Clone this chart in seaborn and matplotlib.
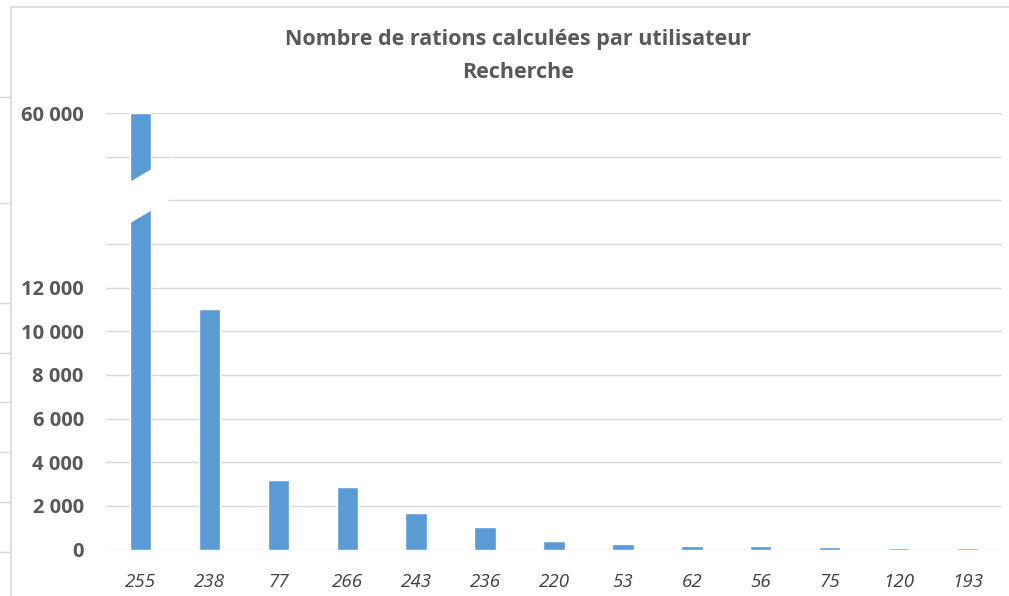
import numpy as np
import pandas as pd
import matplotlib
matplotlib.use("Agg")
import matplotlib.pyplot as plt
import seaborn as sns
from matplotlib.lines import Line2D
from matplotlib.patches import Polygon

# data
users = ["255", "238", "77", "266", "243", "236", "220", "53", "62", "56", "75", "120", "193"]
rations = [60000, 11000, 3200, 2850, 1680, 1020, 390, 250, 160, 160, 110, 60, 60]
tick_values = [0, 2000, 4000, 6000, 8000, 10000, 12000, 14000, 16000, 18000, 60000]
tick_labels = ["0", "2 000", "4 000", "6 000", "8 000", "10 000", "12 000", "", "", "", "60 000"]

df = pd.DataFrame({"user": users, "rations": rations})

# broken axis : everything above 18 000 is squeezed
BREAK = 18000
SQUEEZE = 21.0
def fwd(y):
    y = np.asarray(y, dtype=float)
    return np.where(y <= BREAK, y, BREAK + (y - BREAK) / SQUEEZE)
def inv(t):
    t = np.asarray(t, dtype=float)
    return np.where(t <= BREAK, t, BREAK + (t - BREAK) * SQUEEZE)

sns.set_style("white")
plt.rcParams["font.family"] = ["Open Sans", "DejaVu Sans"]

fig = plt.figure(figsize=(10.09, 5.96), dpi=100)
ax = fig.add_axes([106 / 1009, (596 - 549.5) / 596, (1002 - 106) / 1009, (549.5 - 113) / 596])

ax.set_yscale("function", functions=(fwd, inv))
sns.barplot(data=df, x="user", y="rations", color="#5B9BD5", width=0.31, ax=ax,
            saturation=1, zorder=3)
ax.set_ylim(0, 60000)
ax.set_xlim(-0.5, len(users) - 0.5)

ax.set_yticks(tick_values)
ax.set_yticklabels(tick_labels, fontsize=14.5, fontweight="bold", color="#595959")
ax.tick_params(axis="y", length=0, pad=16)
ax.tick_params(axis="x", length=0, pad=17)
for lab in ax.get_xticklabels():
    lab.set_fontstyle("italic")
    lab.set_fontsize(13.5)
    lab.set_color("#404040")
ax.set_xlabel("")
ax.set_ylabel("")
ax.grid(axis="y", color="#D9D9D9", linewidth=1, zorder=0)
for s in ax.spines.values():
    s.set_visible(False)

# white break band across the first bar
bx = np.array([-0.5, 0.46, 0.46, -0.5])
by = np.array([16200, 17990, 16100, 14290])
ax.add_patch(Polygon(np.column_stack([bx, by]), closed=True, facecolor="white",
                     edgecolor="none", zorder=4))

fig.text(0.513, 0.933, "Nombre de rations calculées par utilisateur", ha="center", va="center",
         fontsize=15.5, fontweight="bold", color="#595959")
fig.text(0.513, 0.879, "Recherche", ha="center", va="center",
         fontsize=15.5, fontweight="bold", color="#595959")

# chart frame (top and left) and the sheet lines on the far left
fig.add_artist(Line2D([11 / 1009, 11 / 1009], [0, 1 - 7 / 596], color="#D9D9D9", lw=1.2))
fig.add_artist(Line2D([11 / 1009, 1], [1 - 7 / 596, 1 - 7 / 596], color="#D9D9D9", lw=1.2))
for yp in [97, 203, 303, 353, 402, 452, 502, 552]:
    fig.add_artist(Line2D([0, 11 / 1009], [1 - yp / 596, 1 - yp / 596], color="#D9D9D9", lw=1))

fig.savefig("out.png", dpi=100)
